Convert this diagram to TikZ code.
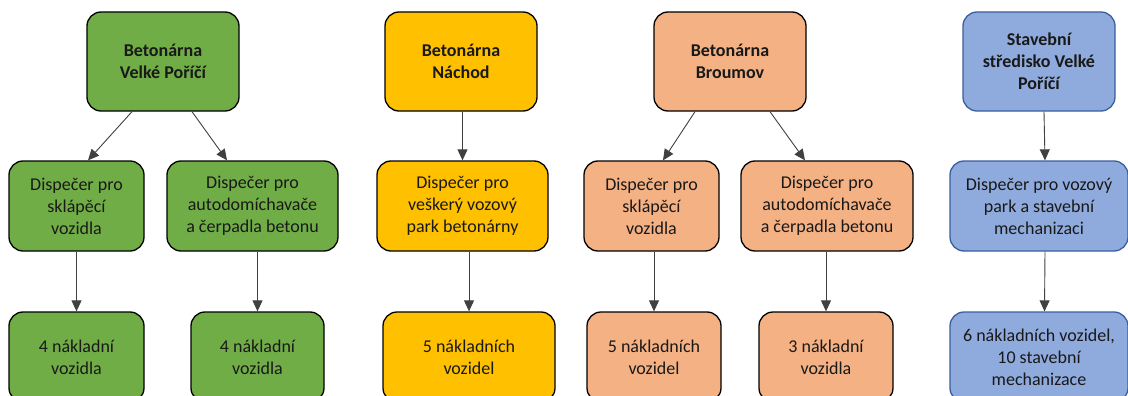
\documentclass[tikz,border=0pt]{standalone}
\usepackage{fontspec}
\setmainfont{Carlito}
\usetikzlibrary{arrows.meta,positioning}

\definecolor{zelena}{HTML}{70AD47}
\definecolor{zluta}{HTML}{FFC000}
\definecolor{lososova}{HTML}{F4B183}
\definecolor{modra}{HTML}{8FAADC}
\definecolor{modraokraj}{HTML}{3A5F9E}
\definecolor{sipka}{HTML}{404040}

\begin{document}
\begin{tikzpicture}[x=1pt,y=-1pt,on grid,
    font=\fontsize{18pt}{22pt}\selectfont]
       \tikzstyle{box}=[draw=black, line width=1.3pt, rounded corners=14pt,
                        align=center, inner sep=0pt, text=black!90]
       \tikzstyle{hlavni}=[box, font=\fontsize{18pt}{22pt}\selectfont\bfseries,
                           minimum width=152pt, minimum height=99pt]
       \tikzstyle{dispecer}=[box, minimum height=90pt]
       \tikzstyle{vozy}=[box, minimum height=90pt]
       \tikzstyle{every edge}=[draw=sipka, line width=0.9pt]

       \useasboundingbox (0,0) rectangle (1128,396);
       \clip (0,0) rectangle (1128,396);

       % Betonarna Velke Porici
       \node[hlavni, fill=zelena]  (t1) at (163,61.5) {Betonárna\\Velké Poříčí};
       \node[dispecer, fill=zelena, minimum width=135pt] (m1a) [below left=144.5pt and 86.5pt of t1]
            {Dispečer pro\\sklápěcí\\vozidla};
       \node[dispecer, fill=zelena, minimum width=171pt] (m1b) [below right=144.5pt and 89.5pt of t1]
            {Dispečer pro\\autodomíchavače\\a čerpadla betonu};
       \node[vozy, fill=zelena, minimum width=135pt] (b1a) [below=151pt of m1a] {4 nákladní\\vozidla};
       \node[vozy, fill=zelena, minimum width=133pt] (b1b) [below right=151pt and 5pt of m1b] {4 nákladní\\vozidla};

       % Betonarna Nachod
       \node[hlavni, fill=zluta]   (t2) at (461,61.5) {Betonárna\\Náchod};
       \node[dispecer, fill=zluta, minimum width=171pt] (m2) [below right=144.5pt and 1.5pt of t2]
            {Dispečer pro\\veškerý vozový\\park betonárny};
       \node[vozy, fill=zluta, minimum width=172pt] (b2) [below right=151pt and 6.5pt of m2] {5 nákladních\\vozidel};

       % Betonarna Broumov
       \node[hlavni, fill=lososova] (t3) at (730,61.5) {Betonárna\\Broumov};
       \node[dispecer, fill=lososova, minimum width=135pt] (m3a) [below left=144.5pt and 78.5pt of t3]
            {Dispečer pro\\sklápěcí\\vozidla};
       \node[dispecer, fill=lososova, minimum width=172pt] (m3b) [below right=144.5pt and 97pt of t3]
            {Dispečer pro\\autodomíchavače\\a čerpadla betonu};
       \node[vozy, fill=lososova, minimum width=134pt] (b3a) [below right=151pt and 2.5pt of m3a] {5 nákladních\\vozidel};
       \node[vozy, fill=lososova, minimum width=134pt] (b3b) [below left=151pt and 1pt of m3b] {3 nákladní\\vozidla};

       % Stavebni stredisko Velke Porici
       \node[hlavni, fill=modra, draw=modraokraj] (t4) at (1039,61.5) {Stavební\\středisko Velké\\Poříčí};
       \node[dispecer, fill=modra, draw=modraokraj, minimum width=178pt] (m4) [below=144.5pt of t4]
            {Dispečer pro vozový\\park a stavební\\mechanizaci};
       \node[vozy, fill=modra, draw=modraokraj, minimum width=178pt] (b4) [below=151pt of m4]
            {6 nákladních vozidel,\\10 stavební\\mechanizace};

       \path[-{Triangle[length=11pt,width=10pt]}]
       ([xshift=-31pt]t1.south)  edge ([xshift=11.5pt]m1a.north)
       ([xshift=29pt]t1.south)   edge ([xshift=-25.5pt]m1b.north)
       (m1a.south -| b1a.north)  edge (b1a.north)
       (m1b.south -| b1b.north)  edge (b1b.north)
       (t2.south -| m2.north)    edge (m2.north)
       (m2.south -| b2.north)    edge (b2.north)
       ([xshift=-35pt]t3.south)  edge ([xshift=11.5pt]m3a.north)
       ([xshift=40pt]t3.south)   edge ([xshift=-22pt]m3b.north)
       (m3a.south -| b3a.north)  edge (b3a.north)
       (m3b.south -| b3b.north)  edge (b3b.north)
       ([xshift=5pt]t4.south)    edge ([xshift=6pt]m4.north)
       ([xshift=6pt]m4.south)    edge ([xshift=5.5pt]b4.north);
     \end{tikzpicture}
\end{document}
